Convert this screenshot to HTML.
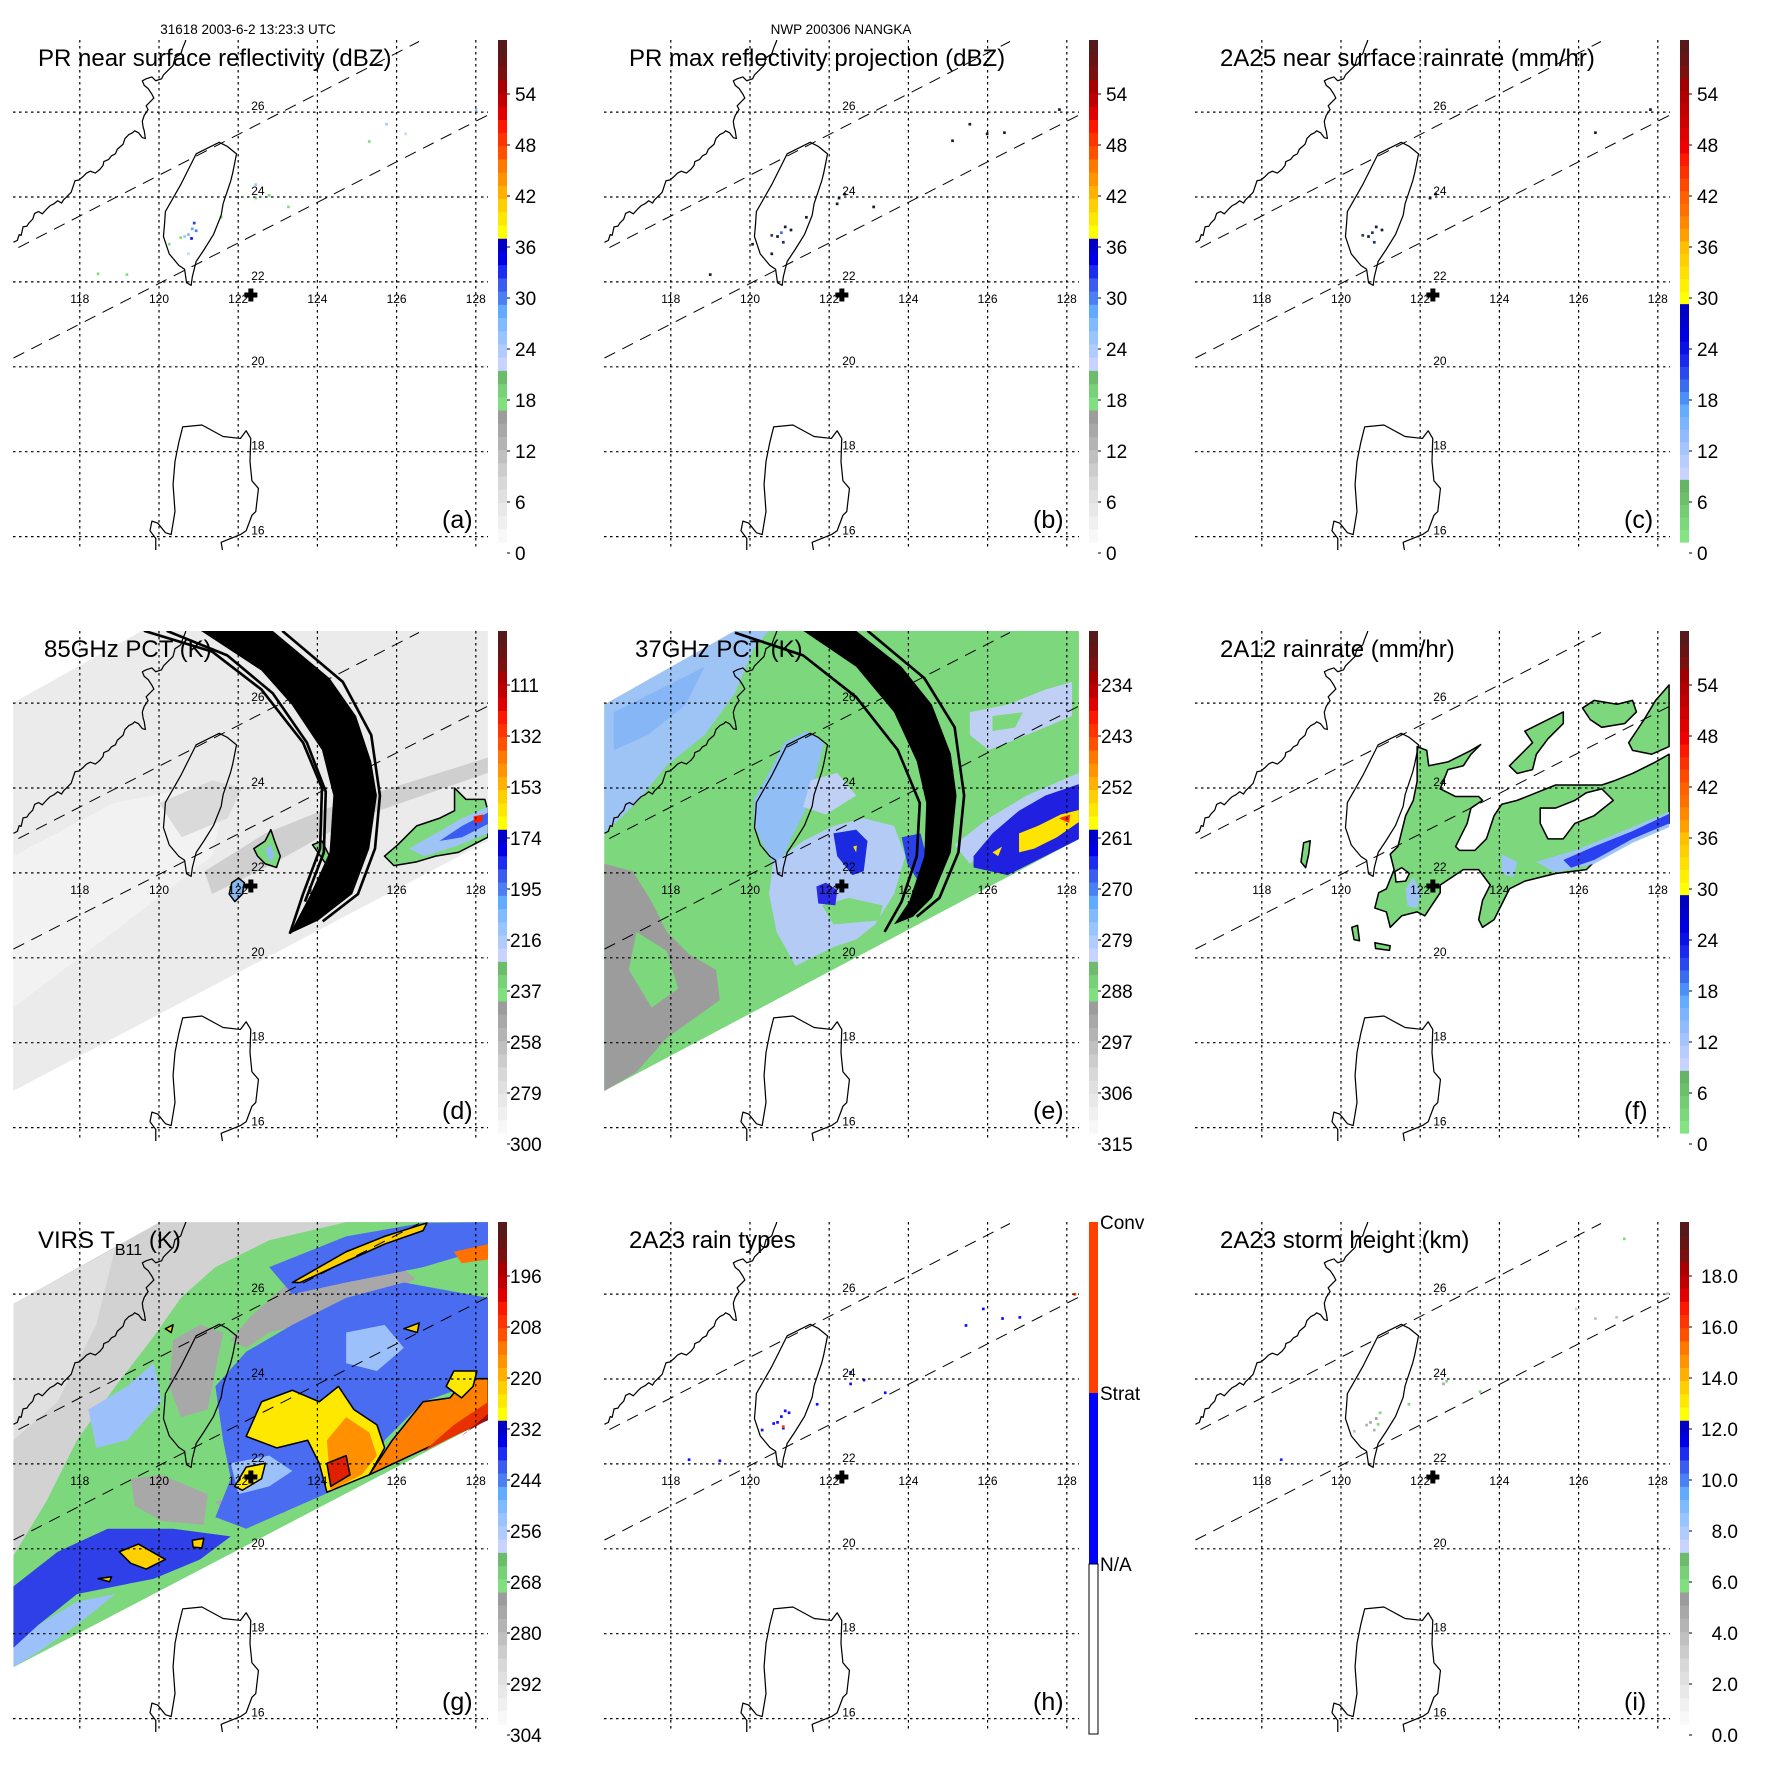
<!DOCTYPE html>
<html><head><meta charset="utf-8"><title>TRMM NANGKA 2003</title>
<style>
html,body{margin:0;padding:0;background:#fff;}
svg{display:block;font-family:"Liberation Sans",Arial,sans-serif;}
</style></head>
<body>
<svg id="fig" xmlns="http://www.w3.org/2000/svg" width="1771" height="1771" viewBox="0 0 1771 1771">
<rect x="0" y="0" width="1771" height="1771" fill="#fff"/>
<text x="248" y="34" font-size="13.5" text-anchor="middle">31618 2003-6-2 13:23:3 UTC</text>
<text x="841" y="34" font-size="13.5" text-anchor="middle">NWP 200306 NANGKA</text>
</svg>
<script>
const NS='http://www.w3.org/2000/svg';
const svg=document.getElementById('fig');

const lonTicks=[118,120,122,124,126,128];
const latTicks=[16,18,20,22,24,26];
const stormLon=[122.32];
const stormLat=[21.69];
const labelsDBZ=['0','6','12','18','24','30','36','42','48','54'];
const labelsRain=['0','6','12','18','24','30','36','42','48','54'];
const labels85=['300','279','258','237','216','195','174','153','132','111'];
const labels37=['315','306','297','288','279','270','261','252','243','234'];
const labelsVIRS=['304','292','280','268','256','244','232','220','208','196'];
const labelsHeight=['0.0','2.0','4.0','6.0','8.0','10.0','12.0','14.0','16.0','18.0'];
const labelsType=['Conv','Strat','N/A'];

const stdColors=['#f8f8f8','#f0f0f0','#e8e8e8','#e0e0e0','#d8d8d8','#cccccc','#c0c0c0','#b4b4b4','#a8a8a8','#9c9c9c',
'#80e080','#78d078','#6cbc6c','#c8d4ff','#b0ccff','#98c4ff','#80baff','#60aaff','#4a80f4','#3a5cf0',
'#1c2cf0','#0000e8','#0000c8','#ffff00','#ffe800','#ffd000','#ffb000','#ff9400','#ff7800',
'#ff5000','#ff3400','#ff1800','#e00000','#c00000','#a80000','#7a1010','#661414','#561a1a'];
const cfColors=['#84e484','#7cd87c','#74cc74','#6cc06c','#66b466','#c8d4ff','#b8ccff','#a4c4ff','#90bcff','#7cb4ff','#64acff',
'#4a90f8','#3a6cf0','#2a48f0','#1a28f0','#0a10e8','#0000e0','#0000d0','#0000c0','#ffff00','#fff000','#ffe000','#ffd000','#ffc000',
'#ffa000','#ff8800','#ff7000','#ff6000','#ff4800','#ff3000','#ff1800','#f00000','#e00000','#d00000','#c00000','#b00000','#a00000',
'#7a1010','#661414','#561a1a'];

function X(lon){return 159+(lon-120)*39.6;}
function Y(lat){return 197-(lat-24)*42.45;}
function mk(tag,attrs,parent){const e=document.createElementNS(NS,tag);for(const k in attrs)e.setAttribute(k,attrs[k]);(parent||svg).appendChild(e);return e;}

const taiwanPath='M570,370 L590,380 615,400 605,450 600,470 590,500 580,530 575,560 555,610 530,650 510,680 500,720 497,742 485,735 480,700 465,690 440,660 425,615 428,580 430,550 450,515 470,480 490,440 510,400 540,385 Z';
const luzonPath='M580,1440 L575,1410 600,1400 625,1390 640,1380 655,1340 665,1330 672,1270 655,1250 650,1200 652,1140 640,1120 625,1140 580,1135 525,1105 475,1110 465,1150 455,1200 450,1260 455,1330 445,1390 430,1385 410,1360 395,1355 390,1380 405,1400 405,1440';
const chinaPath='M35,630 L45,625 50,610 55,612 60,590 70,588 75,580 85,570 90,555 100,550 110,556 120,545 130,535 140,530 150,522 160,528 165,520 175,510 185,500 190,485 195,470 205,468 215,460 225,450 235,445 248,450 260,440 268,430 270,420 282,415 290,405 300,400 305,388 320,375 325,360 335,350 345,345 350,340 360,345 370,358 378,360 375,340 372,330 370,315 375,300 385,285 380,275 390,265 400,255 395,245 385,230 375,222 370,210 380,205 395,200 405,210 420,205 425,195 440,180 450,170 455,150 470,140 475,125 482,108 485,95';

const specksA=[[505,580,'#2040f0'],[500,595,'#60a8ff'],[490,610,'#80b8ff'],[480,615,'#a0c8ff'],[498,620,'#1010e0'],[510,600,'#4080ff'],[470,618,'#80e080'],[440,635,'#80e080'],[575,565,'#80e080'],[665,515,'#80e080'],[700,508,'#80e080'],[665,480,'#a0c8ff'],[1005,323,'#a0c8ff'],[1055,348,'#c0d8ff'],[960,368,'#80e080'],[255,712,'#80e080'],[330,714,'#80e080'],[750,538,'#80e080'],[490,660,'#c0d8ff'],[1238,285,'#a0c8ff']];
const specksB=[[505,590,'#102030'],[495,605,'#4070e0'],[485,615,'#102030'],[500,630,'#203080'],[470,612,'#304050'],[520,598,'#102030'],[420,635,'#102030'],[560,565,'#102030'],[645,515,'#102030'],[660,505,'#102030'],[640,530,'#102030'],[735,538,'#102030'],[985,323,'#102030'],[1030,348,'#102030'],[1075,345,'#102030'],[940,366,'#102030'],[1218,285,'#102030'],[310,714,'#102030'],[470,660,'#102030']];
const specksC=[[505,590,'#102030'],[495,605,'#203080'],[485,615,'#102030'],[500,630,'#203080'],[470,612,'#304050'],[520,598,'#102030'],[645,515,'#102030'],[660,505,'#102030'],[1218,285,'#102030'],[1075,345,'#102030']];
const specksH=[[505,595,'#1010ff'],[495,610,'#1010ff'],[485,625,'#1010ff'],[500,640,'#1010ff'],[475,628,'#1010ff'],[515,600,'#1010ff'],[445,645,'#1010ff'],[588,578,'#1010ff'],[675,495,'#1010ff'],[675,525,'#1010ff'],[710,515,'#1010ff'],[765,548,'#1010ff'],[1020,330,'#1010ff'],[1070,355,'#1010ff'],[1115,352,'#1010ff'],[975,373,'#1010ff'],[1258,292,'#ff4000'],[255,722,'#1010ff'],[335,725,'#1010ff'],[500,636,'#ff4000']];
const specksI=[[515,600,'#80d880'],[505,615,'#9a9a9a'],[490,625,'#a8a8a8'],[510,630,'#80d880'],[500,645,'#b0b0b0'],[480,632,'#b0b0b0'],[448,648,'#c0c0c0'],[590,578,'#80d880'],[680,525,'#a8a8a8'],[688,518,'#80d880'],[775,545,'#80d880'],[1075,355,'#c0c0c0'],[1130,352,'#c0c0c0'],[1025,330,'#d0d0d0'],[258,722,'#2020ff'],[1150,148,'#80d880'],[1262,290,'#c0c0c0']];

const fieldD=[
['#ebebeb','none','35,295 375,105 1288,105 1288,660 35,1320'],
['#f2f2f2','none','35,700 300,560 500,520 600,520 560,700 300,900 35,1100'],
['#cfcfcf','none','540,740 700,640 900,560 1000,530 1288,440 1288,480 1000,580 900,620 720,720 560,800'],
['#dadada','none','420,560 560,500 640,520 600,600 480,650'],
['#7ed87e','#000','670,680 700,660 715,630 725,660 740,700 730,730 700,720 680,700'],
['#90bdf2','none','700,680 715,670 725,700 712,715'],
['#88b8f0','#000','605,800 612,770 630,758 645,770 640,800 620,820'],
['#7ed87e','#000','1015,700 1050,670 1100,620 1160,600 1200,580 1200,520 1230,550 1280,550 1288,580 1288,650 1210,690 1150,700 1100,715 1040,725'],
['#9ec4f5','none','1080,680 1150,640 1220,600 1288,570 1288,640 1200,675 1120,700'],
['#3a5cf0','none','1160,660 1220,620 1288,585 1288,615 1220,650'],
['#ff2000','none','1250,595 1275,590 1272,610 1252,612'],
['#7ed87e','#000','825,670 850,660 870,700 895,600 910,640 890,760 860,720'],
['#3050f0','none','868,715 885,700 888,745 872,740']
];
const arcsD={dense:{inner:'530,105 690,210 770,300 850,420 880,540 870,690 820,800 765,905',outer:'840,870 930,800 975,680 995,540 980,450 940,330 870,230 720,105'},
thin:['380,105 560,160 690,260 800,400 850,520 845,680 800,800 765,905','745,105 905,240 980,380 1003,540 990,680 945,800 852,872','440,105 600,170 720,270 810,400 860,530 855,690 805,820']};

const fieldE=[
['#7dd77d','none','35,300 380,105 1288,105 1288,655 35,1320'],
['#9ec4f5','none','35,300 380,105 470,105 430,150 380,270 300,380 200,460 120,560 35,640'],
['#86b6f5','none','60,320 200,250 300,200 250,300 150,380 60,420'],
['#9c9c9c','none','35,720 110,740 160,820 200,900 260,960 330,1000 340,1080 270,1130 200,1180 120,1270 35,1320'],
['#7dd77d','none','120,900 200,950 230,1050 160,1100 100,1000'],
['#90bef5','none','570,370 615,400 590,500 575,560 530,650 500,720 490,740 465,690 430,620 430,550 470,480 510,400'],
['#b4ccf5','none','480,720 560,660 640,620 720,600 800,620 830,700 800,800 750,880 700,920 640,940 540,990 490,900 470,800'],
['#7dd77d','none','610,830 680,810 770,830 760,870 640,880'],
['#1a2ae0','none','640,640 700,630 730,660 720,740 690,750 650,700'],
['#2a2ae8','none','595,780 620,770 650,790 645,830 600,825'],
['#2a40e8','none','820,650 870,640 885,700 860,760 835,720'],
['#b8ccf5','none','960,670 1050,600 1150,540 1288,480 1288,540 1100,640 1000,720'],
['#2020e0','none','1010,700 1060,640 1130,580 1200,540 1288,510 1288,655 1100,750 1010,730'],
['#ffe400','none','1130,640 1180,620 1240,590 1288,578 1288,610 1230,650 1170,680 1130,690'],
['#ff3000','none','1235,600 1265,590 1262,612'],
['#ffe400','none','1060,690 1085,675 1075,700'],
['#ffe400','none','692,675 702,672 700,690'],
['#ffe400','none','870,730 885,720 888,750 872,748'],
['#c0d0f5','none','1000,320 1100,300 1200,260 1270,240 1270,330 1150,380 1050,420 1000,380'],
['#7dd77d','none','1060,330 1140,320 1120,360 1060,370'],
['#c0d0f5','none','580,500 650,480 700,540 620,590 560,570']
];
const arcsE={dense:{inner:'560,105 700,200 800,320 860,450 885,560 880,700 840,820 800,880',outer:'850,860 900,810 950,690 965,540 950,430 900,300 820,200 700,105'},
thin:['380,110 560,170 700,280 810,420 868,560 860,700 820,820 775,900','730,105 880,230 960,360 985,540 970,690 920,810 860,860']};

const fieldF=[
['#7dd87d','#000','640,420 665,430 670,470 720,460 780,430 805,415 780,440 760,470 720,480 700,530 740,550 800,550 810,560 780,580 770,620 740,680 750,690 790,690 820,660 840,600 860,570 900,560 950,540 1000,520 1060,520 1120,520 1150,510 1200,490 1260,460 1295,440 1295,620 1200,660 1100,720 1080,740 1000,750 920,770 880,790 860,830 840,870 810,890 800,870 810,820 830,780 800,740 760,740 700,780 700,800 680,830 660,860 640,850 600,860 570,890 560,850 530,840 540,800 560,790 580,740 570,700 590,680 600,640 610,600 630,560 640,510 640,460'],
['#ffffff','#000','960,580 1000,580 1050,560 1080,540 1120,530 1150,560 1100,600 1050,620 1020,660 980,660 960,620'],
['#ffffff','#000','582,745 600,735 620,750 610,770 585,772'],
['#9ec4f5','none','950,720 1050,690 1150,650 1295,590 1295,630 1200,670 1100,725 1000,748'],
['#2a40f0','none','1020,715 1100,680 1200,640 1295,595 1295,620 1200,660 1100,715 1040,735'],
['#9ec4f5','none','610,790 630,760 650,800 640,840 615,835'],
['#9ec4f5','none','860,700 900,720 890,760 860,750'],
['#7dd87d','#000','880,470 920,430 940,410 920,380 960,360 1000,340 1020,330 1020,360 980,400 950,440 940,480 900,490'],
['#7dd87d','#000','1070,320 1100,300 1160,310 1200,300 1210,330 1180,360 1120,370 1090,350'],
['#7dd87d','#000','1190,410 1230,350 1260,300 1295,260 1295,420 1250,440 1200,430'],
['#7dd87d','#000','345,670 362,665 358,700 350,735 338,720'],
['#7dd87d','#000','470,890 485,885 490,925 476,922'],
['#7dd87d','#000','530,930 570,938 568,950 532,945']
];

const fieldG=[
['#d2d2d2','none','35,345 415,133 1270,133 1270,645 35,1290'],
['#e0e0e0','none','35,345 300,200 250,400 150,600 35,700'],
['#7dd87d','none','35,1000 120,860 200,700 300,560 400,430 470,330 560,250 700,180 900,133 1270,133 1270,645 35,1290'],
['#a8a8a8','none','600,440 650,380 740,300 850,250 950,230 1030,240 1080,280 1000,330 900,380 820,390 700,420 640,460'],
['#a8a8a8','none','450,440 520,400 580,420 560,520 540,620 470,640 440,560'],
['#a8a8a8','none','340,800 420,790 540,840 530,920 420,910 350,870'],
['#a8a8a8','none','560,860 660,830 760,840 740,890 600,900'],
['#4a6cf0','none','560,560 640,470 760,400 900,330 1050,290 1270,330 1270,540 1100,600 1000,700 960,790 800,860 640,930 560,900 600,800 580,700'],
['#9cc0fa','none','600,760 700,740 760,780 700,820 620,840'],
['#9cc0fa','none','900,420 1000,400 1050,460 980,520 900,500'],
['#4a6cf0','none','700,250 900,170 1100,135 1270,133 1270,200 1100,250 900,290 760,320'],
['#9cc0fa','none','230,620 330,560 400,500 420,600 330,700 250,720'],
['#3040e8','none','35,1080 150,990 280,930 450,930 600,950 520,1010 400,1060 300,1080 200,1100 100,1180 35,1240'],
['#9cc0fa','none','35,1240 100,1180 200,1120 300,1100 200,1180 100,1250 35,1290'],
['#ffe800','#000','640,690 680,600 760,570 830,600 880,560 920,620 980,660 1000,720 960,790 850,835 830,760 800,700 720,720'],
['#ff9000','none','850,700 900,640 960,680 980,740 940,790 860,830'],
['#e02000','#000','850,760 900,740 910,790 860,820'],
['#ffe800','#000','610,820 640,770 690,760 680,800 630,830'],
['#ff8000','#000','960,790 1020,700 1100,600 1170,590 1210,540 1270,540 1270,645'],
['#e83000','none','1100,730 1180,660 1270,600 1270,645'],
['#a01010','none','1200,690 1270,630 1270,645 1210,680'],
['#ffe800','#000','1160,560 1180,520 1240,520 1230,560 1200,590'],
['#ffd000','#000','760,290 900,210 1000,170 1110,135 1100,155 1000,190 900,235 780,290'],
['#ffd000','#000','310,990 360,970 430,1010 380,1035 340,1020'],
['#ffd000','#000','500,960 530,955 525,980 502,978'],
['#ff7000','none','1180,210 1270,190 1270,230 1200,240'],
['#ffd000','#000','1050,410 1090,395 1085,420'],
['#ffd000','#000','430,410 450,400 445,420'],
['#ffd000','#000','255,1060 290,1055 285,1068']
];

const panels=[
{k:'a',ox:0,oy:0,title:'PR near surface reflectivity (dBZ)',tx:38,cb:'std',labels:labelsDBZ,specks:specksA},
{k:'b',ox:591,oy:0,title:'PR max reflectivity projection (dBZ)',tx:38,cb:'std',labels:labelsDBZ,specks:specksB},
{k:'c',ox:1182,oy:0,title:'2A25 near surface rainrate (mm/hr)',tx:38,cb:'cf',labels:labelsRain,specks:specksC},
{k:'d',ox:0,oy:591,title:'85GHz PCT (K)',tx:44,cb:'std',labels:labels85,field:fieldD,fz:[1/2.64,0,0],arcs:arcsD},
{k:'e',ox:591,oy:591,title:'37GHz PCT (K)',tx:44,cb:'std',labels:labels37,field:fieldE,fz:[1/2.64,0,0],arcs:arcsE},
{k:'f',ox:1182,oy:591,title:'2A12 rainrate (mm/hr)',tx:38,cb:'cf',labels:labelsRain,field:fieldF,fz:[1/2.6,-11,-6]},
{k:'g',ox:0,oy:1182,title:'VIRS',tx:38,cb:'std',labels:labelsVIRS,field:fieldG,fz:[1/2.6,0,-11]},
{k:'h',ox:591,oy:1182,title:'2A23 rain types',tx:38,cb:'type',labels:labelsType,specks:specksH},
{k:'i',ox:1182,oy:1182,title:'2A23 storm height (km)',tx:38,cb:'std',labels:labelsHeight,specks:specksI}
];

const MX0=13,MX1=488,MY0=40,MY1=550;

panels.forEach(p=>{
  const g=mk('g',{transform:`translate(${p.ox},${p.oy})`});
  
  
  const defs=mk('defs',{},g);
  const cp=mk('clipPath',{id:'clip-'+p.k},defs);
  mk('rect',{x:MX0,y:MY0,width:MX1-MX0,height:MY1-MY0},cp);
  const map=mk('g',{'clip-path':`url(#clip-${p.k})`},g);
  
  

  if(p.field){
    const fg=mk('g',{transform:`translate(${p.fz[1]},${p.fz[2]}) scale(${p.fz[0]})`},map);
    
    
    p.field.forEach(f=>{
      const el=mk('polygon',{points:f[2],fill:f[0],stroke:f[1],'stroke-width':f[1]==='none'?0:4,'stroke-linejoin':'round'},fg);
      
      
    });
    if(p.arcs){
      const band=mk('polygon',{points:p.arcs.dense.inner+' '+p.arcs.dense.outer,fill:'#000'},fg);
      
      
      p.arcs.thin.forEach(t=>{
        const a=mk('polyline',{points:t,fill:'none',stroke:'#000','stroke-width':7,'stroke-linejoin':'round'},fg);
        
        
      });
    }
  }
  if(p.specks){
    const sg=mk('g',{transform:'scale(0.3846)'},map);
    p.specks.forEach(s=>{
      const r=mk('rect',{x:s[0]-3.5,y:s[1]-3.5,width:7,height:7,fill:s[2]},sg);
      
      
    });
  }
  const bm=mk('g',{transform:'scale(0.3846)',fill:'none',stroke:'#000','stroke-width':3.2,'stroke-linejoin':'round'},map);
  const t1=mk('path',{d:taiwanPath},bm);
  
  
  const t2=mk('path',{d:luzonPath},bm);
  
  
  const t3=mk('path',{d:chinaPath},bm);
  
  
  const l1=mk('line',{x1:X(116),y1:250+(X(116)-13.5)*-0.5205,x2:419,y2:41.5,stroke:'#000','stroke-width':1,'stroke-dasharray':'12,8'},map);
  
  
  const l2=mk('line',{x1:13.5,y1:358,x2:490,y2:114,stroke:'#000','stroke-width':1,'stroke-dasharray':'12,8'},map);
  
  
  latTicks.forEach(lat=>{
    const ln=mk('line',{x1:MX0,x2:MX1,y1:Y(lat),y2:Y(lat),stroke:'#000','stroke-width':1.2,'stroke-dasharray':'2.5,3.5'},g);
    
    
    const tx=mk('text',{x:X(122)+13,y:Y(lat)-2,'font-size':12},g);
    tx.textContent=String(lat);
    
    
  });
  lonTicks.forEach(lon=>{
    const ln=mk('line',{x1:X(lon),x2:X(lon),y1:MY0,y2:MY1,stroke:'#000','stroke-width':1.2,'stroke-dasharray':'2.5,3.5'},g);
    
    
    const tx=mk('text',{x:X(lon),y:Y(22)+21,'font-size':12,'text-anchor':'middle'},g);
    tx.textContent=String(lon);
    
    
  });
  const cx=X(stormLon[0]),cy=Y(stormLat[0]);
  const mkr=mk('path',{d:`M${cx-6},${cy-2} h4 v-4 h4 v4 h4 v4 h-4 v4 h-4 v-4 h-4 Z`,fill:'#000',stroke:'#000','stroke-width':1},g);
  
  
  const tt=mk('text',{x:p.tx,y:66,'font-size':24},g);
  
  
  if(p.k==='g'){
    tt.textContent='VIRS T';
    const s=mk('tspan',{'font-size':16,dy:7},tt);
    s.textContent='B11';
    const s2=mk('tspan',{dy:-7},tt);
    s2.textContent=' (K)';
  } else tt.textContent=p.title;
  const pl=mk('text',{x:442,y:528,'font-size':25},g);
  pl.textContent='('+p.k+')';
  
  
  const cb=mk('g',{},g);
  
  
  const CX=498,CW=9,CT=40,CB=542;
  if(p.cb==='type'){
    const cols=['#ff4000','#0000ff','#ffffff'];
    const ys=[40,211,382,552];
    cols.forEach((c,i)=>{
      const r=mk('rect',{x:CX,y:ys[i],width:CW,height:ys[i+1]-ys[i],fill:c},cb);
      
      
    });
    const o=mk('rect',{x:CX,y:382,width:CW,height:170,fill:'none',stroke:'#000','stroke-width':1},cb);
    
    
    p.labels.forEach((L,i)=>{
      const t=mk('text',{x:CX+11,y:ys[i]+7,'font-size':19},cb);
      t.textContent=L;
      
      
    });
  } else {
    const cols=p.cb==='cf'?cfColors:stdColors;
    const h=(CB-CT)/cols.length;
    cols.forEach((c,i)=>{
      const r=mk('rect',{x:CX,y:CB-(i+1)*h,width:CW,height:h+0.6,fill:c},cb);
      
      
    });
    p.labels.forEach((L,i)=>{
      const y=553-i*51;
      const tk=mk('line',{x1:CX+9,x2:CX+12,y1:y,y2:y,stroke:'#000','stroke-width':1},cb);
      
      
      const t=p.k==='i'?mk('text',{x:556,y:y+7,'font-size':19,'text-anchor':'end'},cb):mk('text',{x:p.labels[0].length>1?510:515,y:y+7,'font-size':19},cb);
      t.textContent=L;
      
      
    });
  }
});
</script>
</body></html>
